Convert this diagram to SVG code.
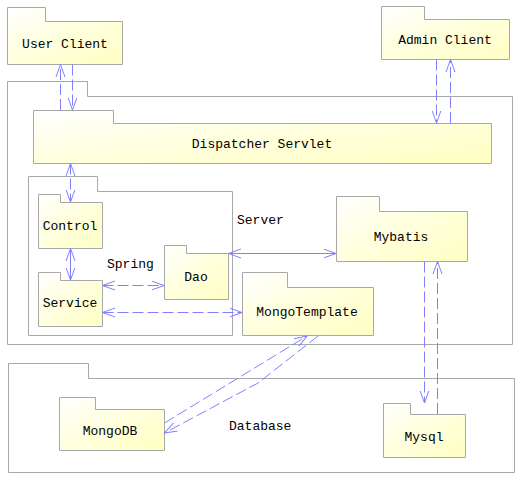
<svg xmlns="http://www.w3.org/2000/svg" width="524" height="482" viewBox="0 0 524 482">
<defs>
<linearGradient id="yg" x1="0" y1="0" x2="1" y2="1">
<stop offset="0" stop-color="#ffffff"/>
<stop offset="0.45" stop-color="#ffffe0"/>
<stop offset="1" stop-color="#ffffc4"/>
</linearGradient>
<marker id="ah" markerUnits="userSpaceOnUse" markerWidth="14" markerHeight="12" viewBox="0 0 14 12" refX="12.5" refY="6" orient="auto-start-reverse">
<path d="M0,1.5 L12.5,6 L0,10.5" fill="none" stroke="#8080ff" stroke-width="1"/>
</marker>
</defs>
<style>
.box{fill:url(#yg);stroke:#a8a8a8;stroke-width:1}
.cont{fill:none;stroke:#a8a8a8;stroke-width:1}
text{font-family:"Liberation Mono","DejaVu Sans Mono",monospace;font-size:13px;fill:#000}
.c{text-anchor:middle}
.ln{fill:none;stroke:#8080ff;stroke-width:1}
.d{stroke-dasharray:11,4}
.e{marker-end:url(#ah)}
.b{marker-start:url(#ah);marker-end:url(#ah)}
</style>
<rect width="524" height="482" fill="#fff"/>

<g id="server-outer">
<path class="cont" d="M7.5,81.5 H87.5 V96.5 H512.5 V344.5 H7.5 Z"/>
</g>
<g id="database">
<path class="cont" d="M8.5,363.5 H88.5 V378.5 H514.5 V472.5 H8.5 Z"/>
<text x="229" y="430">Database</text>
</g>
<g id="server">
<path class="cont" d="M28.5,176.5 H97.5 V191.5 H232.5 V335.5 H28.5 Z"/>
<text x="237" y="224">Server</text>
</g>
<g id="spring-label">
<text x="107" y="268">Spring</text>
</g>

<g id="user-client">
<path class="box" d="M7.5,7.5 H45.5 V21.5 H122.5 V64.5 H7.5 Z"/>
<text class="c" x="65" y="48">User Client</text>
</g>
<g id="admin-client">
<path class="box" d="M381.5,6.5 H424.5 V19.5 H509.5 V59.5 H381.5 Z"/>
<text class="c" x="445" y="44">Admin Client</text>
</g>
<g id="dispatcher-servlet">
<path class="box" d="M33.5,110.5 H113.5 V123.5 H491.5 V163.5 H33.5 Z"/>
<text class="c" x="262" y="148">Dispatcher Servlet</text>
</g>
<g id="control">
<path class="box" d="M38.5,194.5 H60.5 V202.5 H102.5 V248.5 H38.5 Z"/>
<text class="c" x="70" y="230">Control</text>
</g>
<g id="service">
<path class="box" d="M38.5,272.5 H60.5 V280.5 H102.5 V326.5 H38.5 Z"/>
<text class="c" x="70" y="307">Service</text>
</g>
<g id="dao">
<path class="box" d="M164.5,245.5 H186.5 V253.5 H228.5 V299.5 H164.5 Z"/>
<text class="c" x="196" y="281">Dao</text>
</g>
<g id="mybatis">
<path class="box" d="M336.5,196.5 H379.5 V211.5 H467.5 V261.5 H336.5 Z"/>
<text class="c" x="401" y="241">Mybatis</text>
</g>
<g id="mongotemplate">
<path class="box" d="M242.5,272.5 H287.5 V287.5 H373.5 V335.5 H242.5 Z"/>
<text class="c" x="307" y="316">MongoTemplate</text>
</g>
<g id="mongodb">
<path class="box" d="M59.5,397.5 H95.5 V409.5 H164.5 V450.5 H59.5 Z"/>
<text class="c" x="110" y="435">MongoDB</text>
</g>
<g id="mysql">
<path class="box" d="M383.5,403.5 H410.5 V414.5 H465.5 V457.5 H383.5 Z"/>
<text class="c" x="424" y="441">Mysql</text>
</g>

<g id="connectors">
<path class="ln d e" d="M60.5,110 V64.5"/>
<path class="ln d e" d="M72.5,64.5 V110"/>
<path class="ln d e" d="M436.5,59.5 V123"/>
<path class="ln d e" d="M450.5,123 V59.5"/>
<path class="ln d b" d="M70.5,163.5 V202"/>
<path class="ln b" d="M70.5,248.5 V280"/>
<path class="ln d b" d="M102.5,285.5 H164"/>
<path class="ln d b" d="M102.5,312.5 H242"/>
<path class="ln b" d="M228.5,253.5 H336"/>
<path class="ln d e" d="M424.5,261.5 V403"/>
<path class="ln d e" d="M437.5,414 V261.5"/>
<path class="ln d e" d="M164.5,423 L307,336"/>
<path class="ln d e" d="M318,336 L258,383 L164.5,433"/>
</g>
</svg>
